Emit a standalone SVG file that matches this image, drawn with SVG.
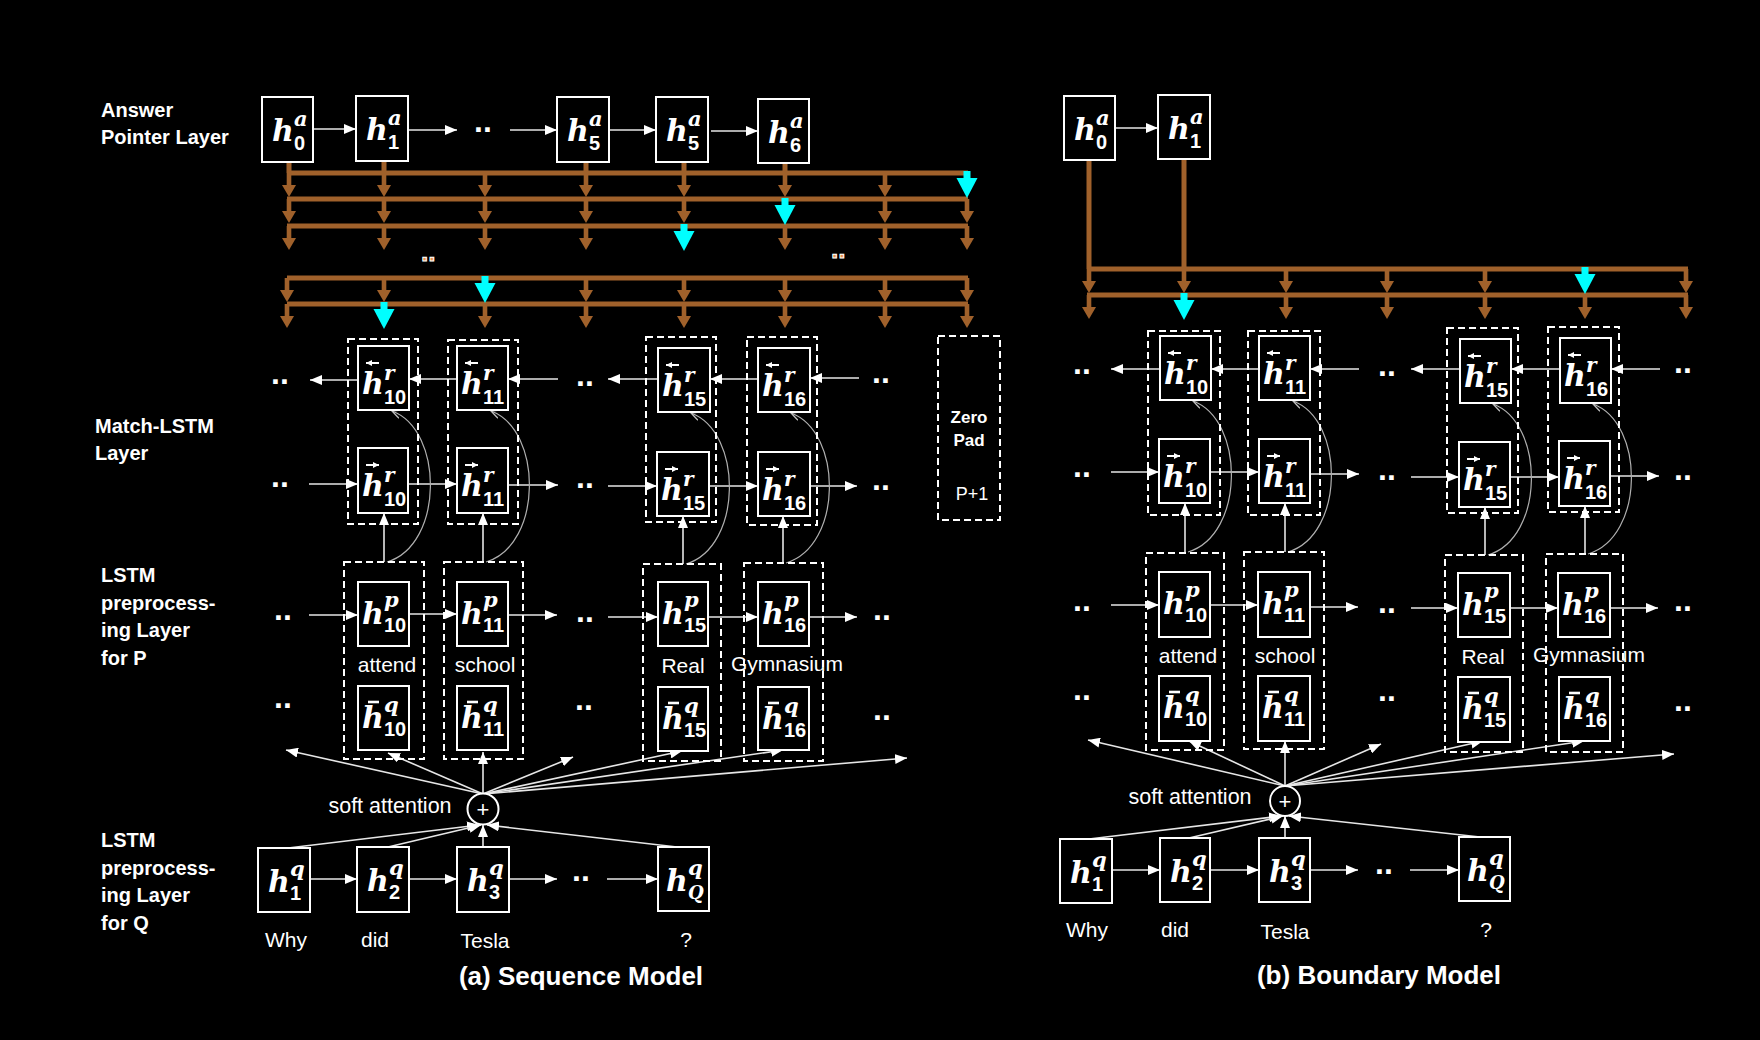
<svg xmlns="http://www.w3.org/2000/svg" width="1760" height="1040" viewBox="0 0 1760 1040">
<defs>
<style>
.bx{fill:#000;stroke:#fff;stroke-width:2}
.dg{fill:none;stroke:#fff;stroke-width:2;stroke-dasharray:7 4}
.h{font-family:"DejaVu Serif",serif;font-weight:bold;font-style:italic;font-size:30px;fill:#fff}
.sp{font-family:"DejaVu Serif",serif;font-weight:bold;font-style:italic;font-size:21px}
.sr{font-family:"DejaVu Serif",serif;font-weight:bold;font-style:italic;font-size:20px}
.sq{font-family:"DejaVu Serif",serif;font-weight:bold;font-style:italic;font-size:18px}
.sb{font-family:"Liberation Sans",Arial,sans-serif;font-weight:bold;font-style:normal;font-size:20px}
.acc{stroke:#fff;stroke-width:2;fill:none;marker-end:url(#s)}
.bar{stroke:#fff;stroke-width:2.6;fill:none}
.lb{font-family:"Liberation Sans",Arial,sans-serif;font-weight:bold;font-size:20px;fill:#fff}
.wd{font-family:"Liberation Sans",Arial,sans-serif;font-size:21px;fill:#fff}
.dt{font-family:"Liberation Sans",Arial,sans-serif;font-weight:bold;font-size:32px;fill:#fff}
.do{font-family:"Liberation Sans",Arial,sans-serif;font-weight:bold;font-size:26px;fill:#e89050;stroke:#fff;stroke-width:1}
.ti{font-family:"Liberation Sans",Arial,sans-serif;font-weight:bold;font-size:26px;fill:#fff}
.zp{font-family:"Liberation Sans",Arial,sans-serif;font-weight:bold;font-size:17px;fill:#fff}
.ln{stroke:#e6e6e6;stroke-width:1.6;fill:none;marker-end:url(#a)}
.cv{stroke:#b0b0b0;stroke-width:1.2;fill:none;marker-end:url(#c)}
.br{stroke:#a0612b;stroke-width:5;fill:none}
.bf{fill:#a0612b}
.cf{fill:#00ffff}
</style>
<marker id="a" viewBox="0 0 12 10" refX="12" refY="5" markerWidth="12" markerHeight="10" markerUnits="userSpaceOnUse" orient="auto"><path d="M0,0 L12,5 L0,10 z" fill="#fff"/></marker>
<marker id="s" viewBox="0 0 6 6" refX="6" refY="3" markerWidth="6" markerHeight="6" markerUnits="userSpaceOnUse" orient="auto"><path d="M0,0 L6,3 L0,6 z" fill="#fff"/></marker>
<marker id="c" viewBox="0 0 10 10" refX="9" refY="5" markerWidth="10" markerHeight="10" markerUnits="userSpaceOnUse" orient="auto"><path d="M0,0.5 L9,5 L0,9.5" fill="none" stroke="#c0c0c0" stroke-width="1.3"/></marker>
<g id="ba" class="bf"><rect x="-2.3" y="-24" width="4.6" height="13"/><polygon points="-7,-12 7,-12 0,0"/></g>
<g id="ca" class="cf"><rect x="-3.5" y="-27" width="7" height="8"/><polygon points="-10.5,-20 10.5,-20 0,0"/></g>
</defs>
<rect x="0" y="0" width="1760" height="1040" fill="#000"/>

<g id="labels">
<text class="lb" x="101" y="117">Answer</text>
<text class="lb" x="101" y="144">Pointer Layer</text>
<text class="lb" x="95" y="433">Match-LSTM</text>
<text class="lb" x="95" y="460">Layer</text>
<text class="lb" x="101" y="582">LSTM</text>
<text class="lb" x="101" y="610">preprocess-</text>
<text class="lb" x="101" y="637">ing Layer</text>
<text class="lb" x="101" y="665">for P</text>
<text class="lb" x="101" y="847">LSTM</text>
<text class="lb" x="101" y="875">preprocess-</text>
<text class="lb" x="101" y="902">ing Layer</text>
<text class="lb" x="101" y="930">for Q</text>
<text class="ti" x="581" y="985" text-anchor="middle">(a) Sequence Model</text>
<text class="ti" x="1379" y="984" text-anchor="middle">(b) Boundary Model</text>
</g>

<g id="connectors">
<path class="br" d="M289,162V173M384,161V173M586,162V173M684,162V173M785,163V173"/>
<path class="br" d="M287,173H968M287,199H968M287,226H968M287,278H968M287,304H968"/>
<use href="#ba" x="289" y="197"/><use href="#ba" x="384" y="197"/><use href="#ba" x="485" y="197"/><use href="#ba" x="586" y="197"/><use href="#ba" x="684" y="197"/><use href="#ba" x="785" y="197"/><use href="#ba" x="885" y="197"/><use href="#ca" x="967" y="198"/>
<use href="#ba" x="289" y="223"/><use href="#ba" x="384" y="223"/><use href="#ba" x="485" y="223"/><use href="#ba" x="586" y="223"/><use href="#ba" x="684" y="223"/><use href="#ca" x="785" y="225"/><use href="#ba" x="885" y="223"/><use href="#ba" x="967" y="223"/>
<use href="#ba" x="289" y="250"/><use href="#ba" x="384" y="250"/><use href="#ba" x="485" y="250"/><use href="#ba" x="586" y="250"/><use href="#ca" x="684" y="251"/><use href="#ba" x="785" y="250"/><use href="#ba" x="885" y="250"/><use href="#ba" x="967" y="250"/>
<use href="#ba" x="287" y="302"/><use href="#ba" x="384" y="302"/><use href="#ca" x="485" y="303"/><use href="#ba" x="586" y="302"/><use href="#ba" x="684" y="302"/><use href="#ba" x="785" y="302"/><use href="#ba" x="885" y="302"/><use href="#ba" x="967" y="302"/>
<use href="#ba" x="287" y="328"/><use href="#ca" x="384" y="329"/><use href="#ba" x="485" y="328"/><use href="#ba" x="586" y="328"/><use href="#ba" x="684" y="328"/><use href="#ba" x="785" y="328"/><use href="#ba" x="885" y="328"/><use href="#ba" x="967" y="328"/>
<path class="br" d="M1089,160V269M1184,159V269M1087,269H1688M1087,295H1688"/>
<use href="#ba" x="1089" y="293"/><use href="#ba" x="1184" y="293"/><use href="#ba" x="1286" y="293"/><use href="#ba" x="1387" y="293"/><use href="#ba" x="1485" y="293"/><use href="#ca" x="1585" y="294"/><use href="#ba" x="1686" y="293"/>
<use href="#ba" x="1089" y="319"/><use href="#ca" x="1184" y="320"/><use href="#ba" x="1286" y="319"/><use href="#ba" x="1387" y="319"/><use href="#ba" x="1485" y="319"/><use href="#ba" x="1585" y="319"/><use href="#ba" x="1686" y="319"/>

<path class="ln" d="M313,129H356"/><path class="ln" d="M408,130H457"/><path class="ln" d="M510,130H557"/><path class="ln" d="M609,130H656"/><path class="ln" d="M711,131H758"/>
<path class="ln" d="M358,380H310"/><path class="ln" d="M457,379H409"/><path class="ln" d="M558,379H508"/><path class="ln" d="M658,379H608"/><path class="ln" d="M758,379H710"/><path class="ln" d="M859,378H810"/>
<path class="ln" d="M309,484H358"/><path class="ln" d="M408,484H457"/><path class="ln" d="M508,485H558"/><path class="ln" d="M608,486H657"/><path class="ln" d="M709,486H758"/><path class="ln" d="M810,486H857"/>
<path class="ln" d="M309,615H358"/><path class="ln" d="M409,614H457"/><path class="ln" d="M508,615H557"/><path class="ln" d="M608,617H658"/><path class="ln" d="M708,617H758"/><path class="ln" d="M809,617H857"/>
<path class="ln" d="M384,562V513"/><path class="ln" d="M483,562V513"/><path class="ln" d="M683,564V516"/><path class="ln" d="M783,563V516"/>
<path class="cv" d="M387,562C444,545 444,430 392,411"/>
<path class="cv" d="M486,562C543,545 543,430 491,411"/>
<path class="cv" d="M686,564C743,547 743,432 691,413"/>
<path class="cv" d="M786,563C843,546 843,432 791,413"/>
<path class="ln" d="M483,794L286,750"/><path class="ln" d="M483,794L388,753"/><path class="ln" d="M483,794V752"/><path class="ln" d="M483,794L573,757"/><path class="ln" d="M483,794L682,751"/><path class="ln" d="M483,794L783,750"/><path class="ln" d="M483,794L907,758"/>
<path class="ln" d="M288,848L479,825"/><path class="ln" d="M388,847L481,825"/><path class="ln" d="M483,847V825"/><path class="ln" d="M677,847L487,825"/>
<path class="ln" d="M310,879H357"/><path class="ln" d="M409,879H457"/><path class="ln" d="M509,879H557"/><path class="ln" d="M607,879H658"/>

<path class="ln" d="M1115,128H1158"/>
<path class="ln" d="M1160,369H1111"/><path class="ln" d="M1259,369H1211"/><path class="ln" d="M1359,369H1310"/><path class="ln" d="M1460,369H1411"/><path class="ln" d="M1560,369H1511"/><path class="ln" d="M1660,369H1611"/>
<path class="ln" d="M1111,472H1159"/><path class="ln" d="M1210,472H1259"/><path class="ln" d="M1310,474H1359"/><path class="ln" d="M1411,477H1459"/><path class="ln" d="M1510,477H1559"/><path class="ln" d="M1610,476H1659"/>
<path class="ln" d="M1111,605H1159"/><path class="ln" d="M1210,605H1258"/><path class="ln" d="M1310,607H1358"/><path class="ln" d="M1411,608H1458"/><path class="ln" d="M1510,608H1558"/><path class="ln" d="M1610,608H1658"/>
<path class="ln" d="M1185,552V503"/><path class="ln" d="M1285,552V503"/><path class="ln" d="M1485,555V507"/><path class="ln" d="M1585,554V506"/>
<path class="cv" d="M1188,552C1245,535 1245,420 1193,401"/>
<path class="cv" d="M1288,552C1345,535 1345,420 1293,401"/>
<path class="cv" d="M1488,555C1545,538 1545,423 1493,404"/>
<path class="cv" d="M1588,554C1645,537 1645,423 1593,404"/>
<path class="ln" d="M1285,786L1088,740"/><path class="ln" d="M1285,786L1189,741"/><path class="ln" d="M1285,786V741"/><path class="ln" d="M1285,786L1381,744"/><path class="ln" d="M1285,786L1483,741"/><path class="ln" d="M1285,786L1584,741"/><path class="ln" d="M1285,786L1674,754"/>
<path class="ln" d="M1089,839L1281,816"/><path class="ln" d="M1189,838L1283,816"/><path class="ln" d="M1285,838V816"/><path class="ln" d="M1480,837L1289,816"/>
<path class="ln" d="M1112,870H1160"/><path class="ln" d="M1210,870H1259"/><path class="ln" d="M1310,870H1358"/><path class="ln" d="M1410,870H1459"/>
</g>

<g id="dots">
<text class="dt" x="474" y="132">..</text>
<text class="do" x="421" y="261">..</text>
<text class="do" x="831" y="258">..</text>
<text class="dt" x="271" y="384">..</text><text class="dt" x="576" y="386">..</text><text class="dt" x="872" y="383">..</text>
<text class="dt" x="271" y="487">..</text><text class="dt" x="576" y="488">..</text><text class="dt" x="872" y="490">..</text>
<text class="dt" x="274" y="620">..</text><text class="dt" x="576" y="622">..</text><text class="dt" x="873" y="620">..</text>
<text class="dt" x="274" y="708">..</text><text class="dt" x="575" y="710">..</text><text class="dt" x="873" y="720">..</text>
<text class="dt" x="572" y="881">..</text>
<text class="dt" x="1073" y="374">..</text><text class="dt" x="1378" y="376">..</text><text class="dt" x="1674" y="373">..</text>
<text class="dt" x="1073" y="477">..</text><text class="dt" x="1378" y="480">..</text><text class="dt" x="1674" y="480">..</text>
<text class="dt" x="1073" y="611">..</text><text class="dt" x="1378" y="613">..</text><text class="dt" x="1674" y="611">..</text>
<text class="dt" x="1073" y="700">..</text><text class="dt" x="1378" y="701">..</text><text class="dt" x="1674" y="711">..</text>
<text class="dt" x="1375" y="874">..</text>
</g>

<g id="grp-a">
<rect class="dg" x="348" y="339" width="70" height="185"/>
<rect class="dg" x="448" y="340" width="70" height="184"/>
<rect class="dg" x="646" y="337" width="70" height="185"/>
<rect class="dg" x="747" y="337" width="70" height="188"/>
<rect class="dg" x="344" y="562" width="80" height="197"/>
<rect class="dg" x="444" y="562" width="79" height="197"/>
<rect class="dg" x="643" y="564" width="78" height="197"/>
<rect class="dg" x="744" y="563" width="79" height="198"/>
</g>
<g id="zeropad">
<rect class="dg" x="938" y="336" width="62" height="184"/>
<text class="zp" x="969" y="423" text-anchor="middle">Zero</text>
<text class="zp" x="969" y="446" text-anchor="middle">Pad</text>
<text class="wd" x="972" y="500" text-anchor="middle" style="font-size:18px">P+1</text>
</g>
<g id="grp-b">
<rect class="dg" x="1148" y="331" width="72" height="184"/>
<rect class="dg" x="1248" y="331" width="72" height="184"/>
<rect class="dg" x="1447" y="328" width="71" height="185"/>
<rect class="dg" x="1548" y="327" width="71" height="185"/>
<rect class="dg" x="1146" y="553" width="78" height="197"/>
<rect class="dg" x="1244" y="552" width="80" height="197"/>
<rect class="dg" x="1445" y="555" width="78" height="197"/>
<rect class="dg" x="1546" y="554" width="77" height="198"/>
</g>

<g id="a-h0a"><rect class="bx" x="262" y="97" width="51" height="65"/><text class="h"><tspan x="272" y="141">h</tspan><tspan class="sp" x="294" y="126">a</tspan><tspan class="sb" x="294" y="150">0</tspan></text></g>
<g id="a-h1a"><rect class="bx" x="356" y="96" width="52" height="65"/><text class="h"><tspan x="366" y="140">h</tspan><tspan class="sp" x="388" y="125">a</tspan><tspan class="sb" x="388" y="149">1</tspan></text></g>
<g id="a-h5a"><rect class="bx" x="557" y="97" width="52" height="65"/><text class="h"><tspan x="567" y="141">h</tspan><tspan class="sp" x="589" y="126">a</tspan><tspan class="sb" x="589" y="150">5</tspan></text></g>
<g id="a-h5a2"><rect class="bx" x="656" y="97" width="52" height="65"/><text class="h"><tspan x="666" y="141">h</tspan><tspan class="sp" x="688" y="126">a</tspan><tspan class="sb" x="688" y="150">5</tspan></text></g>
<g id="a-h6a"><rect class="bx" x="758" y="99" width="51" height="64"/><text class="h"><tspan x="768" y="143">h</tspan><tspan class="sp" x="790" y="128">a</tspan><tspan class="sb" x="790" y="152">6</tspan></text></g>

<g id="a-hr10b"><rect class="bx" x="358" y="346" width="51" height="64"/><path class="acc" d="M379,363H366"/><text class="h"><tspan x="362" y="394">h</tspan><tspan class="sr" x="384" y="380">r</tspan><tspan class="sb" x="384" y="404">10</tspan></text></g>
<g id="a-hr11b"><rect class="bx" x="457" y="346" width="51" height="64"/><path class="acc" d="M478,363H465"/><text class="h"><tspan x="461" y="394">h</tspan><tspan class="sr" x="483" y="380">r</tspan><tspan class="sb" x="483" y="404">11</tspan></text></g>
<g id="a-hr15b"><rect class="bx" x="658" y="348" width="52" height="64"/><path class="acc" d="M679,365H666"/><text class="h"><tspan x="662" y="396">h</tspan><tspan class="sr" x="684" y="382">r</tspan><tspan class="sb" x="684" y="406">15</tspan></text></g>
<g id="a-hr16b"><rect class="bx" x="758" y="348" width="52" height="64"/><path class="acc" d="M779,365H766"/><text class="h"><tspan x="762" y="396">h</tspan><tspan class="sr" x="784" y="382">r</tspan><tspan class="sb" x="784" y="406">16</tspan></text></g>
<g id="a-hr10f"><rect class="bx" x="358" y="448" width="50" height="65"/><path class="acc" d="M366,465H379"/><text class="h"><tspan x="362" y="496">h</tspan><tspan class="sr" x="384" y="482">r</tspan><tspan class="sb" x="384" y="506">10</tspan></text></g>
<g id="a-hr11f"><rect class="bx" x="457" y="448" width="51" height="65"/><path class="acc" d="M465,465H478"/><text class="h"><tspan x="461" y="496">h</tspan><tspan class="sr" x="483" y="482">r</tspan><tspan class="sb" x="483" y="506">11</tspan></text></g>
<g id="a-hr15f"><rect class="bx" x="657" y="452" width="52" height="64"/><path class="acc" d="M665,469H678"/><text class="h"><tspan x="661" y="500">h</tspan><tspan class="sr" x="683" y="486">r</tspan><tspan class="sb" x="683" y="510">15</tspan></text></g>
<g id="a-hr16f"><rect class="bx" x="758" y="452" width="52" height="64"/><path class="acc" d="M766,469H779"/><text class="h"><tspan x="762" y="500">h</tspan><tspan class="sr" x="784" y="486">r</tspan><tspan class="sb" x="784" y="510">16</tspan></text></g>

<g id="a-hp10"><rect class="bx" x="358" y="582" width="51" height="64"/><text class="h"><tspan x="362" y="624">h</tspan><tspan class="sp" x="384" y="607">p</tspan><tspan class="sb" x="384" y="632">10</tspan></text><text class="wd" x="387" y="672" text-anchor="middle">attend</text></g>
<g id="a-hp11"><rect class="bx" x="457" y="582" width="51" height="64"/><text class="h"><tspan x="461" y="624">h</tspan><tspan class="sp" x="483" y="607">p</tspan><tspan class="sb" x="483" y="632">11</tspan></text><text class="wd" x="485" y="672" text-anchor="middle">school</text></g>
<g id="a-hp15"><rect class="bx" x="658" y="582" width="50" height="64"/><text class="h"><tspan x="662" y="624">h</tspan><tspan class="sp" x="684" y="607">p</tspan><tspan class="sb" x="684" y="632">15</tspan></text><text class="wd" x="683" y="673" text-anchor="middle">Real</text></g>
<g id="a-hp16"><rect class="bx" x="758" y="582" width="51" height="64"/><text class="h"><tspan x="762" y="624">h</tspan><tspan class="sp" x="784" y="607">p</tspan><tspan class="sb" x="784" y="632">16</tspan></text><text class="wd" x="787" y="671" text-anchor="middle">Gymnasium</text></g>
<g id="a-hq10"><rect class="bx" x="358" y="686" width="51" height="64"/><path class="bar" d="M368,702H379"/><text class="h"><tspan x="362" y="728">h</tspan><tspan class="sp" x="384" y="712">q</tspan><tspan class="sb" x="384" y="736">10</tspan></text></g>
<g id="a-hq11"><rect class="bx" x="457" y="686" width="51" height="64"/><path class="bar" d="M467,702H478"/><text class="h"><tspan x="461" y="728">h</tspan><tspan class="sp" x="483" y="712">q</tspan><tspan class="sb" x="483" y="736">11</tspan></text></g>
<g id="a-hq15"><rect class="bx" x="658" y="687" width="50" height="64"/><path class="bar" d="M668,703H679"/><text class="h"><tspan x="662" y="729">h</tspan><tspan class="sp" x="684" y="713">q</tspan><tspan class="sb" x="684" y="737">15</tspan></text></g>
<g id="a-hq16"><rect class="bx" x="758" y="687" width="51" height="63"/><path class="bar" d="M768,703H779"/><text class="h"><tspan x="762" y="729">h</tspan><tspan class="sp" x="784" y="713">q</tspan><tspan class="sb" x="784" y="737">16</tspan></text></g>

<g id="a-att"><circle cx="483" cy="809" r="15.5" fill="#000" stroke="#fff" stroke-width="2"/><text class="wd" x="483" y="817" text-anchor="middle" style="font-size:22px">+</text><text class="wd" x="390" y="813" text-anchor="middle" style="font-size:21.5px">soft attention</text></g>
<g id="a-hq1"><rect class="bx" x="258" y="848" width="52" height="64"/><text class="h"><tspan x="268" y="892">h</tspan><tspan class="sp" x="290" y="876">q</tspan><tspan class="sb" x="290" y="900">1</tspan></text><text class="wd" x="286" y="947" text-anchor="middle">Why</text></g>
<g id="a-hq2"><rect class="bx" x="357" y="847" width="52" height="65"/><text class="h"><tspan x="367" y="891">h</tspan><tspan class="sp" x="389" y="875">q</tspan><tspan class="sb" x="389" y="899">2</tspan></text><text class="wd" x="375" y="947" text-anchor="middle">did</text></g>
<g id="a-hq3"><rect class="bx" x="457" y="847" width="52" height="65"/><text class="h"><tspan x="467" y="891">h</tspan><tspan class="sp" x="489" y="875">q</tspan><tspan class="sb" x="489" y="899">3</tspan></text><text class="wd" x="485" y="948" text-anchor="middle">Tesla</text></g>
<g id="a-hqQ"><rect class="bx" x="658" y="847" width="51" height="64"/><text class="h"><tspan x="666" y="891">h</tspan><tspan class="sp" x="688" y="875">q</tspan><tspan class="sq" x="688" y="899">Q</tspan></text><text class="wd" x="686" y="947" text-anchor="middle">?</text></g>

<g id="b-h0a"><rect class="bx" x="1064" y="96" width="51" height="64"/><text class="h"><tspan x="1074" y="140">h</tspan><tspan class="sp" x="1096" y="125">a</tspan><tspan class="sb" x="1096" y="149">0</tspan></text></g>
<g id="b-h1a"><rect class="bx" x="1158" y="95" width="52" height="64"/><text class="h"><tspan x="1168" y="139">h</tspan><tspan class="sp" x="1190" y="124">a</tspan><tspan class="sb" x="1190" y="148">1</tspan></text></g>

<g id="b-hr10b"><rect class="bx" x="1160" y="336" width="51" height="64"/><path class="acc" d="M1181,353H1168"/><text class="h"><tspan x="1164" y="384">h</tspan><tspan class="sr" x="1186" y="370">r</tspan><tspan class="sb" x="1186" y="394">10</tspan></text></g>
<g id="b-hr11b"><rect class="bx" x="1259" y="336" width="51" height="64"/><path class="acc" d="M1280,353H1267"/><text class="h"><tspan x="1263" y="384">h</tspan><tspan class="sr" x="1285" y="370">r</tspan><tspan class="sb" x="1285" y="394">11</tspan></text></g>
<g id="b-hr15b"><rect class="bx" x="1460" y="339" width="51" height="64"/><path class="acc" d="M1481,356H1468"/><text class="h"><tspan x="1464" y="387">h</tspan><tspan class="sr" x="1486" y="373">r</tspan><tspan class="sb" x="1486" y="397">15</tspan></text></g>
<g id="b-hr16b"><rect class="bx" x="1560" y="338" width="51" height="65"/><path class="acc" d="M1581,355H1568"/><text class="h"><tspan x="1564" y="386">h</tspan><tspan class="sr" x="1586" y="372">r</tspan><tspan class="sb" x="1586" y="396">16</tspan></text></g>
<g id="b-hr10f"><rect class="bx" x="1159" y="439" width="51" height="64"/><path class="acc" d="M1167,456H1180"/><text class="h"><tspan x="1163" y="487">h</tspan><tspan class="sr" x="1185" y="473">r</tspan><tspan class="sb" x="1185" y="497">10</tspan></text></g>
<g id="b-hr11f"><rect class="bx" x="1259" y="439" width="51" height="64"/><path class="acc" d="M1267,456H1280"/><text class="h"><tspan x="1263" y="487">h</tspan><tspan class="sr" x="1285" y="473">r</tspan><tspan class="sb" x="1285" y="497">11</tspan></text></g>
<g id="b-hr15f"><rect class="bx" x="1459" y="442" width="51" height="65"/><path class="acc" d="M1467,459H1480"/><text class="h"><tspan x="1463" y="490">h</tspan><tspan class="sr" x="1485" y="476">r</tspan><tspan class="sb" x="1485" y="500">15</tspan></text></g>
<g id="b-hr16f"><rect class="bx" x="1559" y="441" width="51" height="65"/><path class="acc" d="M1567,458H1580"/><text class="h"><tspan x="1563" y="489">h</tspan><tspan class="sr" x="1585" y="475">r</tspan><tspan class="sb" x="1585" y="499">16</tspan></text></g>

<g id="b-hp10"><rect class="bx" x="1159" y="572" width="51" height="65"/><text class="h"><tspan x="1163" y="614">h</tspan><tspan class="sp" x="1185" y="597">p</tspan><tspan class="sb" x="1185" y="622">10</tspan></text><text class="wd" x="1188" y="663" text-anchor="middle">attend</text></g>
<g id="b-hp11"><rect class="bx" x="1258" y="572" width="52" height="65"/><text class="h"><tspan x="1262" y="614">h</tspan><tspan class="sp" x="1284" y="597">p</tspan><tspan class="sb" x="1284" y="622">11</tspan></text><text class="wd" x="1285" y="663" text-anchor="middle">school</text></g>
<g id="b-hp15"><rect class="bx" x="1458" y="573" width="52" height="64"/><text class="h"><tspan x="1462" y="615">h</tspan><tspan class="sp" x="1484" y="598">p</tspan><tspan class="sb" x="1484" y="623">15</tspan></text><text class="wd" x="1483" y="664" text-anchor="middle">Real</text></g>
<g id="b-hp16"><rect class="bx" x="1558" y="573" width="52" height="64"/><text class="h"><tspan x="1562" y="615">h</tspan><tspan class="sp" x="1584" y="598">p</tspan><tspan class="sb" x="1584" y="623">16</tspan></text><text class="wd" x="1589" y="662" text-anchor="middle">Gymnasium</text></g>
<g id="b-hq10"><rect class="bx" x="1159" y="676" width="51" height="65"/><path class="bar" d="M1169,692H1180"/><text class="h"><tspan x="1163" y="718">h</tspan><tspan class="sp" x="1185" y="702">q</tspan><tspan class="sb" x="1185" y="726">10</tspan></text></g>
<g id="b-hq11"><rect class="bx" x="1258" y="676" width="52" height="65"/><path class="bar" d="M1268,692H1279"/><text class="h"><tspan x="1262" y="718">h</tspan><tspan class="sp" x="1284" y="702">q</tspan><tspan class="sb" x="1284" y="726">11</tspan></text></g>
<g id="b-hq15"><rect class="bx" x="1458" y="677" width="52" height="65"/><path class="bar" d="M1468,693H1479"/><text class="h"><tspan x="1462" y="719">h</tspan><tspan class="sp" x="1484" y="703">q</tspan><tspan class="sb" x="1484" y="727">15</tspan></text></g>
<g id="b-hq16"><rect class="bx" x="1559" y="677" width="51" height="64"/><path class="bar" d="M1569,693H1580"/><text class="h"><tspan x="1563" y="719">h</tspan><tspan class="sp" x="1585" y="703">q</tspan><tspan class="sb" x="1585" y="727">16</tspan></text></g>

<g id="b-att"><circle cx="1285" cy="801" r="15" fill="#000" stroke="#fff" stroke-width="2"/><text class="wd" x="1285" y="809" text-anchor="middle" style="font-size:22px">+</text><text class="wd" x="1190" y="804" text-anchor="middle" style="font-size:21.5px">soft attention</text></g>
<g id="b-hq1"><rect class="bx" x="1060" y="839" width="52" height="64"/><text class="h"><tspan x="1070" y="883">h</tspan><tspan class="sp" x="1092" y="867">q</tspan><tspan class="sb" x="1092" y="891">1</tspan></text><text class="wd" x="1087" y="937" text-anchor="middle">Why</text></g>
<g id="b-hq2"><rect class="bx" x="1160" y="838" width="50" height="64"/><text class="h"><tspan x="1170" y="882">h</tspan><tspan class="sp" x="1192" y="866">q</tspan><tspan class="sb" x="1192" y="890">2</tspan></text><text class="wd" x="1175" y="937" text-anchor="middle">did</text></g>
<g id="b-hq3"><rect class="bx" x="1259" y="838" width="51" height="64"/><text class="h"><tspan x="1269" y="882">h</tspan><tspan class="sp" x="1291" y="866">q</tspan><tspan class="sb" x="1291" y="890">3</tspan></text><text class="wd" x="1285" y="939" text-anchor="middle">Tesla</text></g>
<g id="b-hqQ"><rect class="bx" x="1459" y="837" width="51" height="64"/><text class="h"><tspan x="1467" y="881">h</tspan><tspan class="sp" x="1489" y="865">q</tspan><tspan class="sq" x="1489" y="889">Q</tspan></text><text class="wd" x="1486" y="937" text-anchor="middle">?</text></g>
</svg>
